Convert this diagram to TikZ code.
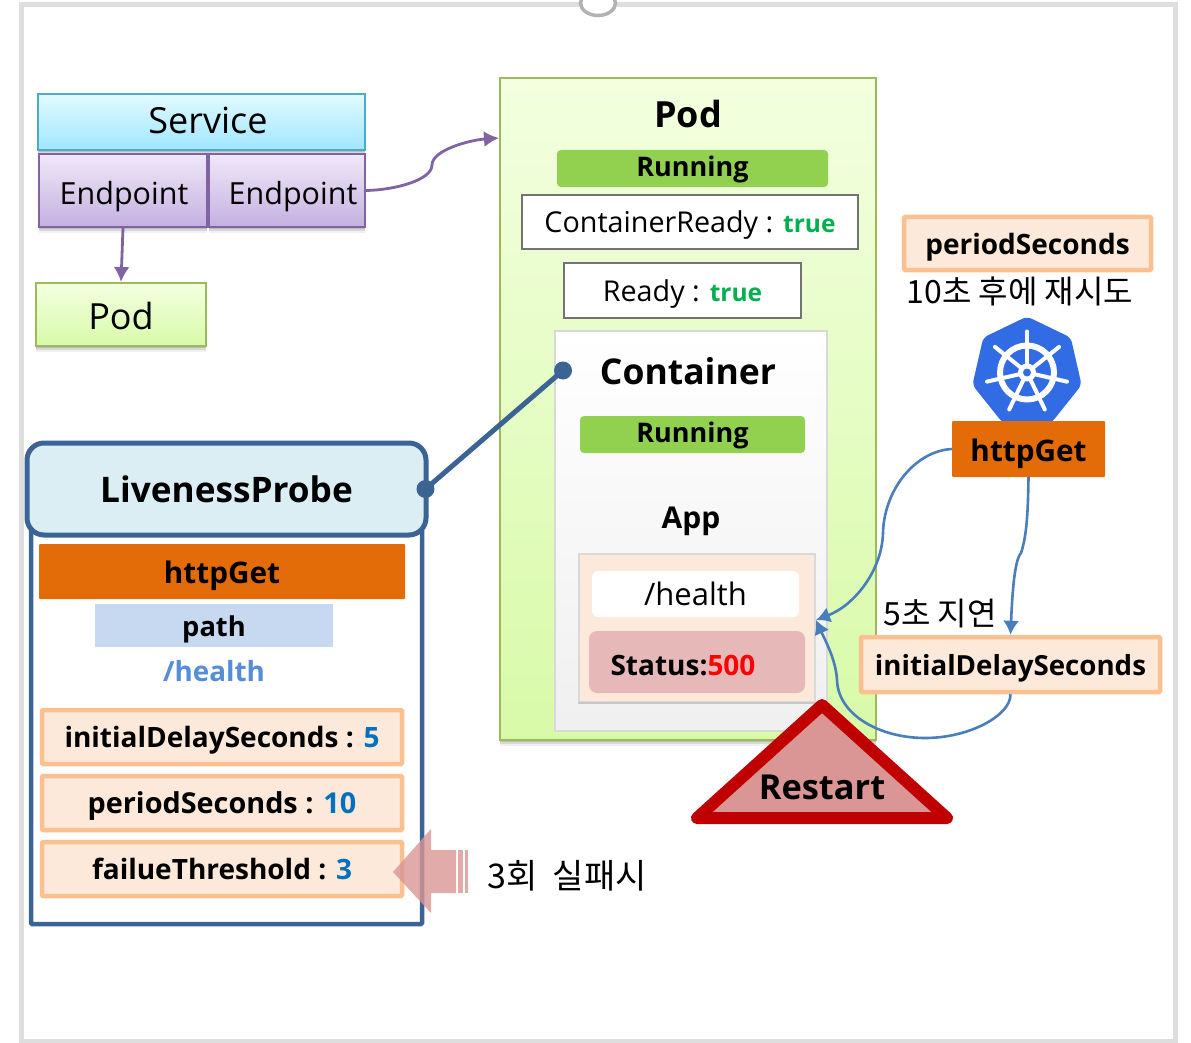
\documentclass[tikz,border=0pt]{standalone}
\usepackage{fontspec}
\setmainfont{Open Sans}
\newfontfamily\krfont{Noto Sans CJK KR}
\usetikzlibrary{arrows.meta,shadows,calc,shapes.geometric}
\definecolor{kblue}{HTML}{326CE5}
\definecolor{flow}{HTML}{4A7EBB}
\definecolor{navy}{HTML}{3B6494}
\definecolor{purp}{HTML}{8064A2}
\definecolor{peach}{HTML}{FDE9D9}
\definecolor{peachline}{HTML}{FAC090}
\definecolor{orangebox}{HTML}{E36C09}
\definecolor{runn}{HTML}{92D050}
\definecolor{valblue}{HTML}{0070C0}
\definecolor{okgreen}{HTML}{00B050}
\definecolor{rosefill}{HTML}{D99694}
\definecolor{svcline}{HTML}{4BACC6}
\definecolor{svctop}{HTML}{E2FAFF}
\definecolor{svcbot}{HTML}{9FE6FF}
\definecolor{eptop}{HTML}{F0E8F8}
\definecolor{epbot}{HTML}{C4B0E0}
\definecolor{podline}{HTML}{9BBB59}
\definecolor{podtop}{HTML}{F3FFE0}
\definecolor{podbot}{HTML}{D8FAA8}
\definecolor{livefill}{HTML}{DBEEF4}
\definecolor{pathfill}{HTML}{C6D9F1}
\definecolor{pathtext}{HTML}{558ED5}
\definecolor{statfill}{HTML}{E6B9B8}
\definecolor{redline}{HTML}{C00000}
\newcommand{\fs}[1]{\fontsize{#1}{#1}\selectfont}
\newcommand{\bx}[7]{\node[#2,inner sep=0pt,minimum width={#5-#3},minimum height={#6-#4}] (#1) at ({(#3+#5)/2},{(#4+#6)/2}) {#7};}
\tikzset{
 x=1pt,y=-1pt,
 base/.style={text height=#1,text depth=0pt},
 softshadow/.style={
  drop shadow={shadow xshift=0pt,shadow yshift=-2pt,opacity=.12,fill=black},
  drop shadow={shadow xshift=0pt,shadow yshift=-4pt,opacity=.1,fill=black},
  drop shadow={shadow xshift=0pt,shadow yshift=-6pt,opacity=.06,fill=black}},
 svcstyle/.style={draw=svcline,line width=1.8pt,top color=svctop,bottom color=svcbot,softshadow,font=\fs{36},base=23pt},
 epstyle/.style={draw=purp,line width=2pt,top color=eptop,bottom color=epbot,softshadow,font=\fs{30.5},base=29pt},
 greenstyle/.style={draw=podline,line width=2pt,top color=podtop,bottom color=podbot,softshadow},
 peachbox/.style={fill=peach,draw=peachline,line width=4.5pt,rounded corners=1pt,font=\bfseries\fs{28},base=21pt},
 runbox/.style={fill=runn,rounded corners=4pt,font=\bfseries\fs{27},base=16pt},
 statebox/.style={fill=white,draw=black!55,line width=1.4pt,font=\fs{28.7},base=21pt},
 orangebx/.style={fill=orangebox,rounded corners=1pt,font=\bfseries\fs{29.7},base=24pt},
 flowline/.style={draw=flow,line width=2.6pt},
 flowtip/.style={-{Latex[length=14pt,width=16pt]}},
 purpline/.style={draw=purp,line width=2.8pt,-{Latex[length=15pt,width=16pt]}},
 krtext/.style={font=\krfont\fs{32}},
}
\begin{document}
\begin{tikzpicture}
\useasboundingbox (0,0) rectangle (1191,1043);
% frame
\path[draw=black!13,line width=5pt] (21,5) rectangle (1175,1041);
\begin{scope}
\clip (0,0) rectangle (1191,1043);
\node[ellipse,draw=black!30,fill=white,line width=3.5pt,inner sep=0pt,minimum width=35pt,minimum height=25pt] (knob) at (598,3) {};
\end{scope}
% left top group
\bx{service}{svcstyle}{38}{94}{365}{150}{\hspace*{13pt}Service}
\bx{epa}{epstyle}{39}{154}{207}{227}{\hspace*{2pt}Endpoint}
\bx{epb}{epstyle}{209}{154}{365}{227}{\hspace*{12pt}Endpoint}
\bx{podsmall}{greenstyle,font=\fs{36},base=29pt}{36}{283}{206}{346}{Pod}
% big pod
\bx{podbig}{greenstyle}{500}{78}{876}{740}{}
\node[font=\bfseries\fs{36}] (podtitle) at (688,114) {Pod};
\bx{runa}{runbox}{557}{150}{828}{187}{Running}
\bx{ready1}{statebox}{522}{195}{858}{249}{ContainerReady : \textcolor{okgreen}{\bfseries\fs{24.5}true}}
\bx{ready2}{statebox}{564}{263}{801}{318}{Ready : \textcolor{okgreen}{\bfseries\fs{24.5}true}}
\bx{container}{draw=black!15,line width=1.5pt,top color=white,bottom color=black!6}{555}{331}{827}{731}{}
\node[font=\bfseries\fs{35.5}] (ctitle) at (688,371) {Container};
\bx{runb}{runbox}{580}{416}{805}{453}{Running}
\node[font=\bfseries\fs{30}] (apptitle) at (691,521) {App};
\bx{appbox}{fill=peach,draw=black!15,line width=1.5pt}{579}{554}{815}{702}{}
\draw[black!22,line width=2.5pt] (appbox.south west) -- (appbox.south east);
\bx{health}{fill=white,rounded corners=6pt,font=\fs{31}}{592}{571}{799}{617}{/health}
\bx{status}{fill=statfill,rounded corners=8pt,font=\bfseries\fs{28},base=26pt}{589}{631}{805}{693}{Status:\textcolor{red}{500}\hspace*{28pt}}
% right column
\bx{period}{peachbox}{904}{217}{1151}{270}{periodSeconds}
\node[krtext] (tenlabel) at (1020,291) {10초 후에 재시도};
\coordinate (logo) at (1027,372.5);
\fill[kblue,rounded corners=5pt] ($(logo)+(-90:56)$) \foreach \k in {1,...,6}{ -- ($(logo)+({-90+\k*360/7}:56)$)} -- cycle;
\draw[white,line width=6pt] (logo) circle[radius=27];
\foreach \k in {0,...,6}{\draw[white,line width=4pt,line cap=round] (logo) -- ($(logo)+({-90+\k*360/7}:41)$);}
\fill[white] (logo) circle[radius=9];
\fill[kblue] (logo) circle[radius=4];
\bx{httpr}{orangebx}{952}{421}{1105}{477}{httpGet}
\node[krtext] (fivelabel) at (940,614) {5초 지연};
\bx{initr}{peachbox,font=\bfseries\fs{27.7}}{861}{637}{1160}{692}{initialDelaySeconds}
% liveness
\bx{lower}{draw=navy,line width=4.5pt,rounded corners=1pt}{31}{530}{422}{924}{}
\bx{live}{draw=navy,fill=livefill,line width=5pt,rounded corners=17pt,font=\bfseries\fs{35.2}}{27}{443}{426}{535}{LivenessProbe}
\bx{httpl}{orangebx}{39}{544}{405}{599}{httpGet}
\bx{pathbox}{fill=pathfill,font=\bfseries\fs{27.3},base=22pt}{95}{604}{333}{647}{path}
\node[font=\bfseries\fs{27.8},text=pathtext] (pathval) at (214,671) {/health};
\bx{idl}{peachbox}{42}{710}{402}{764}{initialDelaySeconds : \textcolor{valblue}{5}}
\bx{psl}{peachbox,font=\bfseries\fs{28.8}}{42}{776}{402}{830}{periodSeconds : \textcolor{valblue}{10}}
\bx{ftl}{peachbox}{42}{842}{402}{896}{failueThreshold : \textcolor{valblue}{3}}
% block arrow
\fill[rosefill,opacity=.8] (393,872) -- (431,829) -- (431,850) -- (456,850) -- (456,893) -- (431,893) -- (431,913) -- cycle;
\fill[rosefill,opacity=.8] (458,850) rectangle (463,893);
\fill[rosefill,opacity=.8] (465,850) rectangle (468,893);
\node[krtext,font=\krfont\fs{34}] (threelabel) at (567,876) {3회\hspace{8pt} 실패시};
% triangle
\path[fill=rosefill,draw=redline,line width=12pt,line join=round] (822,705) -- (697,818) -- (947,818) -- cycle;
\node[inner sep=0pt,font=\bfseries\fs{34.4}] (restart) at (822,787) {Restart};
% connectors
\coordinate (podin) at (499,138);
\draw[purpline] (epa.south) -- (podsmall.north);
\draw[purpline] (epb.east) .. controls (395,190) and (432,180) .. (432,165) .. controls (432,150) and (470,140) .. (podin);
\coordinate (probeend) at (563,370.5);
\coordinate (probestart) at ($(live.east)+(-3,0)$);
\draw[navy,line width=5pt] (probestart) -- (probeend);
\fill[navy] (probestart) circle[radius=9];
\fill[navy] (probeend) circle[radius=9];
\coordinate (appin) at (816,620);
\draw[flowline,flowtip] (httpr.west) .. controls (915,451) and (884,490) .. (883,533) .. controls (882,570) and (855,605) .. (appin);
\draw[flowline,flowtip] (httpr.south) .. controls (1028,510) and (1027,535) .. (1021,553) .. controls (1014,560) and (1012,600) .. (initr.north);
\draw[flowline,flowtip] (initr.south) .. controls (1011,715) and (970,738) .. (925,738) .. controls (880,738) and (838,715) .. (837,680) .. controls (836,660) and (825,640) .. (appin);
\end{tikzpicture}
\end{document}
